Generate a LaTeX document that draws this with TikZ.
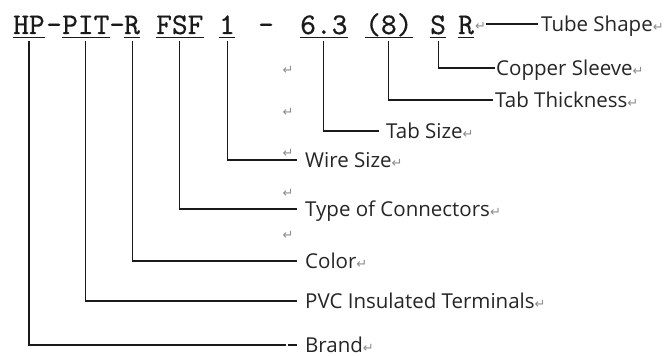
\documentclass[tikz,border=0pt]{standalone}
\usepackage{fontspec}
\setmainfont{Open Sans}
\newfontfamily\dejavu{DejaVu Sans}
\newfontfamily\codefont{lmmono10-regular.otf}[FakeBold=0.5]
\definecolor{txt}{HTML}{262626}
\definecolor{codec}{HTML}{1A1A1A}
\definecolor{ln}{HTML}{1A1A1A}
\definecolor{pmg}{HTML}{8C8C8C}
\newcommand\pmk{{\dejavu\fontsize{13}{13}\selectfont\textcolor{pmg}{↵}}}
\tikzset{
  code/.style={font=\codefont\fontsize{30}{30}\selectfont, text=codec, inner sep=0pt,
               text height=20pt, text depth=3pt, anchor=base west},
  lab/.style={font=\fontsize{20.5}{21}\selectfont, text=txt, inner sep=0pt,
              text height=14.5pt, text depth=0pt, anchor=west},
  pm/.style={font=\dejavu\fontsize{13}{13}\selectfont, text=pmg, inner sep=0pt},
  conn/.style={draw=ln, line width=1.1pt},
  uline/.style={draw=codec, line width=1.1pt}
}
\begin{document}
\begin{tikzpicture}[x=1pt,y=-1pt]
\useasboundingbox (0,0) rectangle (670,356);
\fill[white] (0,0) rectangle (670,356);
% code
\node[code] (hp) at (13,34) {HP};
\node[code] (h1) at (46,34) {-};
\node[code] (pit) at (62,34) {PIT};
\node[code] (h2) at (109,34) {-};
\node[code] (r1) at (124,34) {R};
\node[code] (fsf) at (156,34) {FSF};
\node[code] (one) at (219,34) {1};
\node[code] (dash) at (258,34) {-};
\node[code] (six) at (300,34) {6.3};
\node[code] (eight) at (365,34) {(8)};
\node[code] (s) at (430,34) {S};
\node[code] (r2) at (458,34) {R};
\foreach \n in {hp,pit,r1,fsf,one,six,eight,s,r2}
  \draw[uline] (\n.south west) -- (\n.south east);
% paragraph marks
\node[pm, anchor=west] (pmr) at (475,26) {↵};
\node[pm] (pm1) at (288,70) {↵};
\node[pm] (pm2) at (288,112) {↵};
\node[pm] (pm3) at (288,153) {↵};
\node[pm] (pm4) at (288,193) {↵};
\node[pm] (pm5) at (288,235) {↵};
% labels
\node[lab] (tube) at (541,24) {Tube Shape\pmk};
\node[lab] (copper) at (496,68) {Copper Sleeve\pmk};
\node[lab] (thick) at (495,100) {Tab Thickness\pmk};
\node[lab] (tabsize) at (386,131) {Tab Size\pmk};
\node[lab] (wire) at (305,160) {Wire Size\pmk};
\node[lab] (type) at (305,209) {Type of Connectors\pmk};
\node[lab] (color) at (305,261) {Color\pmk};
\node[lab] (pvc) at (305,301) {PVC Insulated Terminals\pmk};
\node[lab] (brand) at (305,345) {Brand\pmk};
% connectors
\draw[conn] (pmr.east |- tube.west) -- ([xshift=-3pt]tube.west);
\draw[conn] ([yshift=-4pt]s.south) |- ([xshift=-1pt]copper.west);
\draw[conn] ([yshift=-4pt]eight.south) |- ([xshift=-2pt]thick.west);
\draw[conn] ([yshift=-4pt]six.south) |- ([xshift=-7pt]tabsize.west);
\draw[conn] ([yshift=-4pt]one.south) |- ([xshift=-8pt]wire.west);
\draw[conn] ([yshift=-4pt]fsf.south) |- ([xshift=-8pt]type.west);
\draw[conn] ([yshift=-4pt]r1.south) |- ([xshift=-8pt]color.west);
\draw[conn] ([yshift=-4pt]pit.south) |- ([xshift=-8pt]pvc.west);
\draw[conn] ([yshift=-4pt]hp.south) |- ([xshift=-19pt]brand.west);
\draw[conn] ([xshift=-17pt]brand.west) -- ([xshift=-8pt]brand.west);
\end{tikzpicture}
\end{document}
